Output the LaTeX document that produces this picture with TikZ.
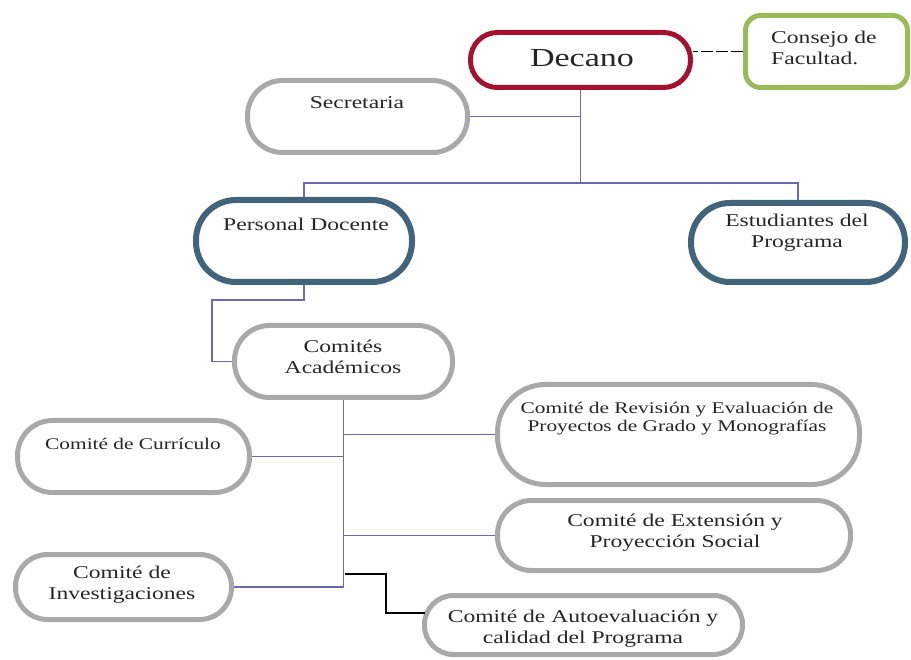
\documentclass[tikz,border=0pt]{standalone}
\usepackage{fontspec}
\setmainfont{Liberation Serif}[FakeStretch=1.31]
\usetikzlibrary{calc}
\definecolor{cred}{HTML}{A5122F}
\definecolor{cgreen}{HTML}{9BBB59}
\definecolor{cslate}{HTML}{41647B}
\definecolor{cgray}{HTML}{A9A9A9}
\definecolor{cline}{HTML}{6A6AAE}
\begin{document}
\begin{tikzpicture}[x=1pt,y=-1pt,
  bx/.style={draw, line width=5pt, fill=white, inner sep=0pt},
  txt/.style={font=\fontsize{18}{21}\selectfont, align=center, inner sep=0pt, text=black!85},
  conn/.style={draw=cline, line width=1.4pt},
  blk/.style={draw=black, line width=1.6pt}]
\useasboundingbox (0,0) rectangle (911,660);

% boxes
\node[bx, draw=cred, rounded corners=27pt, minimum width=220pt, minimum height=55pt] (dec) at (580.5,60) {};
\node[bx, draw=cgreen, rounded corners=15pt, minimum width=162pt, minimum height=72pt] (con) at (826.5,51.5) {};
\node[bx, draw=cgray, rounded corners=35pt, minimum width=220pt, minimum height=72pt] (sec) at (357.5,116.5) {};
\node[bx, draw=cslate, line width=6pt, rounded corners=40pt, minimum width=216pt, minimum height=82pt] (pd) at (304,241) {};
\node[bx, draw=cslate, line width=6pt, rounded corners=39pt, minimum width=214pt, minimum height=79pt] (est) at (798,242.5) {};
\node[bx, draw=cgray, rounded corners=35pt, minimum width=218pt, minimum height=72pt] (com) at (343.5,361.5) {};
\node[bx, draw=cgray, rounded corners=48pt, minimum width=362pt, minimum height=100pt] (rev) at (678.5,434.5) {};
\node[bx, draw=cgray, rounded corners=35pt, minimum width=232pt, minimum height=72pt] (cur) at (133.5,456.5) {};
\node[bx, draw=cgray, rounded corners=34pt, minimum width=353pt, minimum height=70pt] (ext) at (674,535.5) {};
\node[bx, draw=cgray, rounded corners=32pt, minimum width=216pt, minimum height=65pt] (inv) at (123.5,587) {};
\node[bx, draw=cgray, rounded corners=29pt, minimum width=318pt, minimum height=59pt] (aut) at (583.5,625) {};

% texts
\node[txt, font=\fontsize{26}{30}\selectfont] (tdec) at (582,58) {Decano};
\node[txt, align=left, anchor=west] (tcon) at (771,47.5) {Consejo de\\Facultad.};
\node[txt] (tsec) at (357,103) {Secretaria};
\node[txt] (tpd) at (306,224) {Personal Docente};
\node[txt] (test) at (797,233) {Estudiantes del\\Programa};
\node[txt] (tcom) at (343,357) {Comités\\Académicos};
\node[txt, font=\fontsize{16.3}{18}\selectfont] (trev) at (677,419) {Comité de Revisión y Evaluación de\\Proyectos de Grado y Monografías};
\node[txt, font=\fontsize{16.3}{18}\selectfont] (tcur) at (133,444) {Comité de Currículo};
\node[txt] (text) at (675,533) {Comité de Extensión y\\Proyección Social};
\node[txt] (tinv) at (122,585) {Comité de\\Investigaciones};
\node[txt] (taut) at (583,629) {Comité de Autoevaluación y\\calidad del Programa};

% connectors
\draw[blk, dash pattern=on 12pt off 3pt] (con.west) -- (con.west -| dec.east);
\coordinate (j1) at (580.5,183);
\coordinate (j2) at (212,361.5);
\draw[conn] (dec.south) -- (j1);
\draw[conn] (sec.east) -- (sec.east -| j1);
\draw[conn] (pd.north) |- (j1) -| (est.north);
\draw[conn] (pd.south) -- ++(0,15) -| (j2) -- (com.west);
\draw[conn] (com.south) |- (inv.east);
\draw[conn] (rev.west) -- (rev.west -| com.south);
\draw[conn] (cur.east) -- (cur.east -| com.south);
\draw[conn] (ext.west) -- (ext.west -| com.south);
\coordinate (k1) at (345,574);
\coordinate (k2) at (424.5,613);
\draw[blk] (k1) -- ++(41,0) |- (k2);
\end{tikzpicture}
\end{document}
